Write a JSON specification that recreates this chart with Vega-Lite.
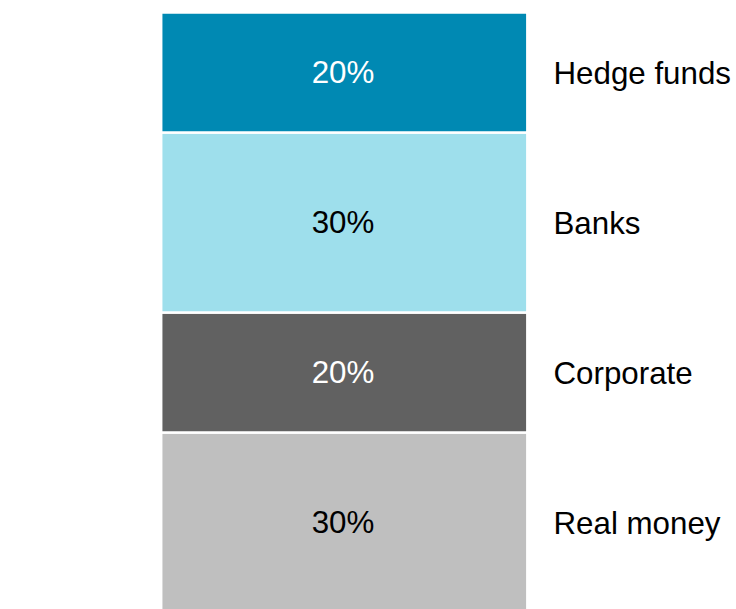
{
  "$schema": "https://vega.github.io/schema/vega-lite/v6.json",
  "width": 736,
  "height": 596.5,
  "autosize": {"type": "none"},
  "padding": {"top": 12.5, "left": 0, "right": 0, "bottom": 0},
  "background": "white",
  "config": {"view": {"stroke": null}},
  "data": {
    "values": [
      {"segment": "Real money", "share": 30, "rank": 1},
      {"segment": "Corporate", "share": 20, "rank": 2},
      {"segment": "Banks", "share": 30, "rank": 3},
      {"segment": "Hedge funds", "share": 20, "rank": 4}
    ]
  },
  "transform": [
    {"stack": "share", "groupby": [], "sort": [{"field": "rank", "order": "ascending"}], "as": ["y0", "y1"]},
    {"calculate": "(datum.y0 + datum.y1) / 2", "as": "ymid"},
    {"calculate": "datum.share + '%'", "as": "label"}
  ],
  "layer": [
    {
      "mark": {"type": "bar", "stroke": "white", "strokeWidth": 2.5},
      "encoding": {
        "x": {"datum": 21.9, "type": "quantitative", "scale": {"domain": [0, 100], "nice": false, "zero": false}, "axis": null},
        "x2": {"datum": 71.65},
        "y": {"field": "y0", "type": "quantitative", "scale": {"domain": [0.583, 100], "nice": false, "zero": false}, "axis": null},
        "y2": {"field": "y1"},
        "color": {
          "field": "segment",
          "type": "nominal",
          "scale": {
            "domain": ["Hedge funds", "Banks", "Corporate", "Real money"],
            "range": ["#0089B3", "#9EDFEC", "#616161", "#BFBFBF"]
          },
          "legend": null
        }
      }
    },
    {
      "mark": {"type": "text", "font": "Liberation Sans", "fontSize": 31.3, "align": "center", "baseline": "middle", "dy": 2},
      "encoding": {
        "x": {"datum": 46.6, "type": "quantitative"},
        "y": {"field": "ymid", "type": "quantitative"},
        "text": {"field": "label"},
        "color": {
          "condition": {"test": "datum.segment === 'Hedge funds' || datum.segment === 'Corporate'", "value": "white"},
          "value": "black"
        }
      }
    },
    {
      "mark": {"type": "text", "font": "Liberation Sans", "fontSize": 31.3, "align": "left", "baseline": "middle", "color": "black", "dy": 2.5},
      "encoding": {
        "x": {"datum": 75.2, "type": "quantitative"},
        "y": {"field": "ymid", "type": "quantitative"},
        "text": {"field": "segment"}
      }
    }
  ]
}
